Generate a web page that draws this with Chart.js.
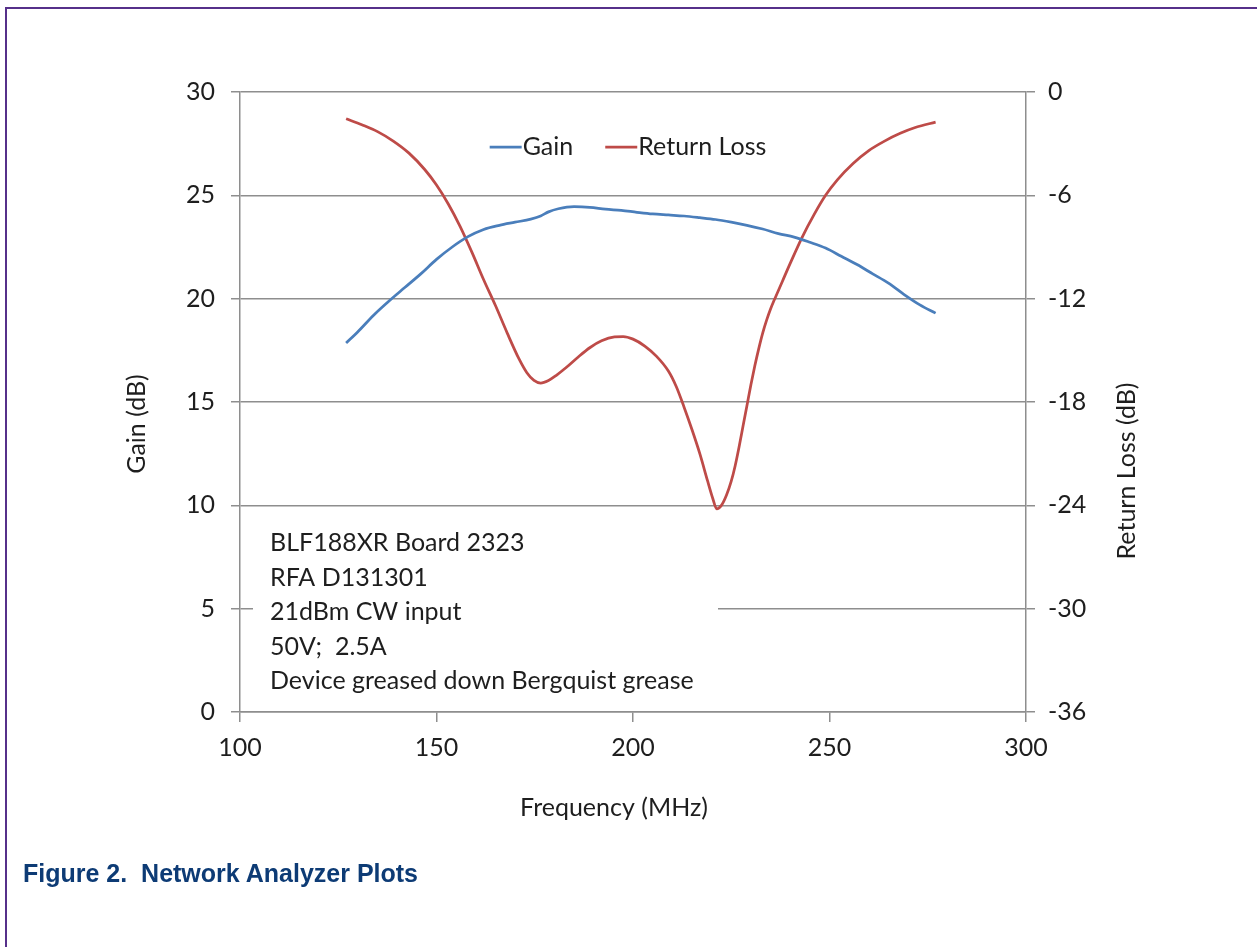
<!DOCTYPE html>
<html>
<head>
<meta charset="utf-8">
<script src="https://cdn.jsdelivr.net/npm/chart.js@4/dist/chart.umd.min.js"></script>
<style>
  html, body { margin: 0; padding: 0; background: #fff; }
  body { width: 1257px; height: 947px; position: relative; overflow: hidden; }
  #frame { position: absolute; left: 5px; top: 7px; right: -4px; bottom: -4px; border-top: 2px solid #56308a; border-left: 2px solid #56308a; }
  #wrap { position: absolute; left: 0; top: 0; width: 1257px; height: 947px; }
  #caption { position: absolute; left: 23px; top: 859px; font: bold 25px "Liberation Sans", Arial, sans-serif; color: #0d3b75; white-space: pre; }
</style>
</head>
<body>
<div id="frame"></div>
<div id="wrap"><canvas id="c" width="1257" height="947"></canvas></div>
<div id="caption">Figure 2.  Network Analyzer Plots</div>
<script>
// frequency axis (MHz)
const xMin = 100, xMax = 300, xStep = 50;
// left axis: gain (dB)
const gainMin = 0, gainMax = 30, gainStep = 5;
// right axis: return loss (dB)
const rlMin = -36, rlMax = 0, rlStep = 6;

const seriesNames = ['Gain', 'Return Loss'];

const gainFreq = [127, 130, 134, 138, 142, 146, 150, 154, 158, 162, 166, 170, 174, 176.5, 178.5, 181, 185, 189, 193, 197, 201, 205, 209, 213, 217, 221, 225, 229, 233, 237, 241, 245, 249, 253, 257, 261, 265, 269, 273, 277];
const gainDb   = [17.85, 18.4, 19.2, 19.9, 20.55, 21.2, 21.9, 22.5, 23.0, 23.35, 23.55, 23.7, 23.85, 24.0, 24.2, 24.35, 24.45, 24.42, 24.33, 24.27, 24.18, 24.1, 24.05, 24.0, 23.92, 23.83, 23.7, 23.55, 23.37, 23.15, 22.98, 22.73, 22.45, 22.05, 21.65, 21.2, 20.75, 20.2, 19.7, 19.3];

const rlFreq = [127, 131, 135, 139, 143, 147, 150, 153, 156, 159, 162, 165, 168, 171, 173, 174.8, 176.5, 178.5, 180.5, 183, 186, 189, 192, 195.3, 197.5, 200, 203, 206, 209, 211, 213, 215, 217, 219, 220.3, 221.3, 222.5, 223.8, 225, 226, 227, 228, 229, 230, 231, 232, 233, 234, 235, 236, 238, 240, 243, 246, 249, 252, 256, 260, 264, 268, 272, 277];
const returnLossDb = [-1.55, -1.9, -2.3, -2.85, -3.55, -4.5, -5.4, -6.5, -7.8, -9.3, -10.9, -12.4, -14.0, -15.5, -16.3, -16.75, -16.9, -16.75, -16.45, -16.0, -15.4, -14.85, -14.45, -14.22, -14.2, -14.35, -14.75, -15.35, -16.2, -17.1, -18.3, -19.6, -21.0, -22.6, -23.6, -24.2, -24.0, -23.4, -22.6, -21.7, -20.6, -19.4, -18.2, -17.0, -15.9, -14.9, -14.0, -13.25, -12.6, -12.05, -11.0, -9.95, -8.45, -7.15, -6.0, -5.1, -4.15, -3.4, -2.85, -2.4, -2.05, -1.75];

const noteLines = ['BLF188XR Board 2323', 'RFA D131301', '21dBm CW input', '50V;  2.5A', 'Device greased down Bergquist grease'];

const xTitle = 'Frequency (MHz)';
const yTitle = 'Gain (dB)';
const y2Title = 'Return Loss (dB)';

const FONT = 'Lato, "Open Sans", sans-serif';
const FS = 25;
const TXT = '#1e1e1e';
const GRID = '#8e8e8e';
const BLUE = '#4a7ebb';
const RED = '#be4b48';

const pts = (xs, ys) => xs.map((x, i) => ({x, y: ys[i]}));

const overlay = {
  id: 'overlay',
  beforeDatasetsDraw(chart) {
    const {ctx, chartArea: a} = chart;
    // note box hides the gridline behind it
    ctx.save();
    ctx.fillStyle = '#fff';
    ctx.fillRect(a.left + 13, a.top + 430, 465, 178);
    ctx.fillStyle = TXT;
    ctx.font = FS + 'px ' + FONT;
    ctx.textBaseline = 'middle';
    noteLines.forEach((t, i) => ctx.fillText(t, a.left + 30, a.top + 451 + i * 34.5));
    ctx.restore();
  },
  afterDraw(chart) {
    const {ctx, chartArea: a} = chart;
    ctx.save();
    ctx.fillStyle = TXT;
    ctx.font = FS + 'px ' + FONT;
    ctx.textAlign = 'center';
    ctx.textBaseline = 'middle';
    ctx.fillText(xTitle, (a.left + a.right) / 2 - 19, a.bottom + 96);
    ctx.translate(a.left - 103, a.top + 332);
    ctx.rotate(-Math.PI / 2);
    ctx.fillText(yTitle, 0, 0);
    ctx.restore();
    ctx.save();
    ctx.fillStyle = TXT;
    ctx.font = FS + 'px ' + FONT;
    ctx.textAlign = 'center';
    ctx.textBaseline = 'middle';
    ctx.translate(a.right + 101, a.top + 379);
    ctx.rotate(-Math.PI / 2);
    ctx.fillText(y2Title, 0, 0);
    ctx.restore();

    // legend
    ctx.save();
    ctx.font = FS + 'px ' + FONT;
    ctx.textBaseline = 'middle';
    const seg = 32, gap = 1, between = 32;
    const widths = seriesNames.map(n => ctx.measureText(n).width);
    const total = widths.reduce((s, w) => s + seg + gap + w, 0) + between;
    let x = (a.left + a.right) / 2 - 5 - total / 2;
    const y = a.top + 55;
    chart.data.datasets.forEach((ds, i) => {
      ctx.strokeStyle = ds.borderColor;
      ctx.lineWidth = 2.75;
      ctx.beginPath(); ctx.moveTo(x, y); ctx.lineTo(x + seg, y); ctx.stroke();
      ctx.fillStyle = TXT;
      ctx.fillText(ds.label, x + seg + gap, y);
      x += seg + gap + widths[i] + between;
    });
    ctx.restore();
  }
};

const tickFont = { family: FONT, size: FS };

new Chart(document.getElementById('c'), {
  type: 'line',
  data: {
    datasets: [
      { label: seriesNames[0], data: pts(gainFreq, gainDb), yAxisID: 'y', borderColor: BLUE, borderWidth: 2.75, pointRadius: 0, cubicInterpolationMode: 'monotone', fill: false },
      { label: seriesNames[1], data: pts(rlFreq, returnLossDb), yAxisID: 'y2', borderColor: RED, borderWidth: 2.75, pointRadius: 0, cubicInterpolationMode: 'monotone', fill: false }
    ]
  },
  options: {
    responsive: false,
    animation: false,
    layout: { padding: { top: 92, left: 0, right: 0, bottom: 0 } },
    plugins: { legend: { display: false }, tooltip: { enabled: false } },
    scales: {
      x: {
        type: 'linear', min: xMin, max: xMax,
        ticks: { stepSize: xStep, color: TXT, font: tickFont, padding: 11, maxRotation: 0 },
        grid: { drawOnChartArea: false, color: GRID, lineWidth: 1.5, tickLength: 10 },
        border: { color: GRID, width: 1.5 },
        afterFit: s => { s.height = 235; }
      },
      y: {
        position: 'left', min: gainMin, max: gainMax,
        ticks: { stepSize: gainStep, color: TXT, font: tickFont, padding: 16 },
        grid: { color: GRID, lineWidth: 1.5, tickLength: 9 },
        border: { color: GRID, width: 1.5 },
        afterFit: s => { s.width = 240; }
      },
      y2: {
        position: 'right', min: rlMin, max: rlMax,
        ticks: { stepSize: rlStep, color: TXT, font: tickFont, padding: 13 },
        grid: { drawOnChartArea: false, color: GRID, lineWidth: 1.5, tickLength: 9 },
        border: { color: GRID, width: 1.5 },
        afterFit: s => { s.width = 231; }
      }
    }
  },
  plugins: [overlay]
});
</script>
</body>
</html>
